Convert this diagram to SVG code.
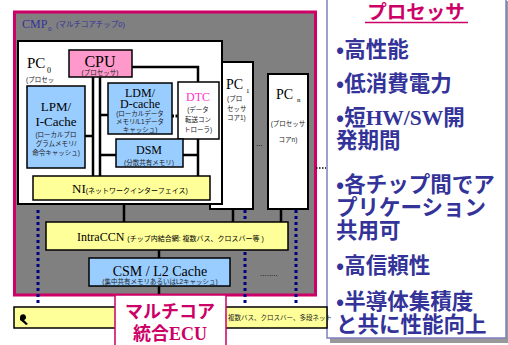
<svg xmlns="http://www.w3.org/2000/svg" width="508" height="345" viewBox="0 0 508 345">
<style>
.bx{stroke:#000;stroke-width:1.5}
.pc{fill:#fff;stroke:#000;stroke-width:2}
.bl{fill:#99ccff}
.ye{fill:#ffff99}
.se{font-family:"Liberation Serif",serif;fill:#000}
.jp{font-family:"Liberation Sans","Noto Sans CJK JP",sans-serif;font-size:6.5px;fill:#222}
.bus{stroke:#000;stroke-width:2.5;fill:none}
.dot{stroke:#000080;stroke-width:3;stroke-dasharray:3,3;fill:none}
.rt{font-family:"Noto Sans CJK JP",sans-serif;font-weight:bold;font-size:21.5px;fill:#333399}
.rs{font-family:"Liberation Serif",serif;font-weight:bold}
</style>
<rect width="508" height="345" fill="#fff"/>
<g id="right-panel">
<rect x="330" y="1" width="178" height="342" fill="#999"/>
<rect x="327" y="-2" width="179" height="340" fill="#fff" stroke="#8080c0" stroke-width="1.5"/>
<text x="416" y="18.5" text-anchor="middle" font-family="Noto Sans CJK JP,sans-serif" font-weight="bold" font-size="19.5" fill="#cc0066">プロセッサ</text>
<line x1="365" y1="22.5" x2="468" y2="22.5" stroke="#cc0066" stroke-width="1.5"/>
<text class="rt" x="336" y="57">•高性能</text>
<text class="rt" x="336" y="91">•低消費電力</text>
<text class="rt" x="336" y="125">•短<tspan class="rs">HW/SW</tspan>開</text>
<text class="rt" x="336" y="148">発期間</text>
<text class="rt" x="336" y="192">•各チップ間でア</text>
<text class="rt" x="336" y="215">プリケーション</text>
<text class="rt" x="336" y="238">共用可</text>
<text class="rt" x="336" y="273">•高信頼性</text>
<text class="rt" x="336" y="309">•半導体集積度</text>
<text class="rt" x="336" y="332">と共に性能向上</text>
</g>
<g id="bottom-bus">
<rect x="14" y="307" width="313" height="21" class="ye" stroke="#000" stroke-width="1.5"/>
<text class="jp" x="228" y="320" font-size="6.5">複数バス、クロスバー、多段ネット</text>
<path d="M20,317 a3,3 0 1 1 4,3 q2,2 4,4 l-2,1 q-3,-3 -6,-5 z" fill="#000"/>
</g>
<g id="cmp">
<rect x="14.5" y="12" width="301" height="283" fill="#808080" stroke="#cc0066" stroke-width="3"/>
<text x="22" y="28" font-family="Liberation Serif,serif" font-size="12" fill="#333399">CMP</text>
<text x="48" y="31" font-family="Liberation Serif,serif" font-size="7" fill="#333399">0</text>
<text x="56" y="27" font-family="Liberation Sans,Noto Sans CJK JP,sans-serif" font-size="7.5" fill="#333399">(マルチコアチップ0)</text>
<text x="260" y="276" font-family="Liberation Sans,sans-serif" font-size="8" fill="#000">........</text>
<text x="256" y="146" font-family="Liberation Sans,sans-serif" font-size="8" fill="#000">...</text>
</g>
<g id="connectors">
<path class="bus" d="M124,200 V222 M233,209 V222 M281,209 V222 M159,250 V258 M159,286 V294"/>
<path class="dot" d="M38,210 V304 M245,210 V304 M296,210 V304"/>
<path d="M316,168 H326" stroke="#000" stroke-width="1.5" stroke-dasharray="1.5,1.5"/>
</g>
<g id="pcn">
<rect class="pc" x="268" y="74" width="40" height="135"/>
<text class="se" x="276" y="99" font-size="14">PC</text>
<text class="se" x="297" y="102" font-size="7">n</text>
<text class="jp" x="288" y="126" text-anchor="middle">(プロセッサ</text>
<text class="jp" x="288" y="142" text-anchor="middle">コアn)</text>
</g>
<g id="pc1">
<rect class="pc" x="210" y="62" width="43" height="147"/>
<text class="se" x="226" y="89" font-size="14">PC</text>
<text class="se" x="246" y="93" font-size="7">1</text>
<text class="jp" x="227" y="101">(プロ</text>
<text class="jp" x="227" y="111">セッサ</text>
<text class="jp" x="227" y="120">コア1)</text>
</g>
<g id="pc0">
<rect class="pc" x="18" y="41" width="204" height="163"/>
<text class="se" x="27" y="68" font-size="15">PC</text>
<text class="se" x="47" y="73" font-size="8">0</text>
<text class="jp" x="26" y="82">(プロセッ</text>
<text class="jp" x="26" y="91">サコア0)</text>
</g>
<g id="pc0-buses">
<path class="bus" d="M93,77 V176 M100,77 V176 M85,136 H93 M100,115 H108 M100,155 H116 M132,67 H198 V82 M198,139 V176 M183,155 H198"/>
<path d="M172,116 H178" stroke="#000" stroke-width="3" stroke-dasharray="2,1.5"/>
</g>
<g id="cpu">
<rect x="69" y="50" width="63" height="27" fill="#ff99cc" class="bx"/>
<text class="se" x="100" y="67" font-size="16" text-anchor="middle">CPU</text>
<text class="jp" x="100" y="75" text-anchor="middle">(プロセッサ)</text>
</g>
<g id="lpm">
<rect x="27" y="86" width="58" height="82" class="bl bx"/>
<text class="se" x="56" y="111" font-size="13" text-anchor="middle">LPM/</text>
<text class="se" x="56" y="126" font-size="13" text-anchor="middle">I-Cache</text>
<text class="jp" x="56" y="137" text-anchor="middle">(ローカルプロ</text>
<text class="jp" x="56" y="146" text-anchor="middle">グラムメモリ/</text>
<text class="jp" x="56" y="155" text-anchor="middle">命令キャッシュ)</text>
</g>
<g id="ldm">
<rect x="108" y="83" width="64" height="51" class="bl bx"/>
<text class="se" x="140" y="97" font-size="12" text-anchor="middle">LDM/</text>
<text class="se" x="140" y="108" font-size="12" text-anchor="middle">D-cache</text>
<text class="jp" x="140" y="116" text-anchor="middle">(ローカルデータ</text>
<text class="jp" x="140" y="124" text-anchor="middle">メモリ/L1データ</text>
<text class="jp" x="140" y="132" text-anchor="middle">キャッシュ)</text>
</g>
<g id="dtc">
<rect x="178" y="82" width="41" height="57" fill="#fff" class="bx"/>
<text x="198" y="101" font-family="Liberation Serif,serif" font-size="12" fill="#ff33cc" text-anchor="middle">DTC</text>
<text class="jp" x="198" y="112" text-anchor="middle">(データ</text>
<text class="jp" x="198" y="122" text-anchor="middle">転送コン</text>
<text class="jp" x="198" y="132" text-anchor="middle">トローラ)</text>
</g>
<g id="dsm">
<rect x="116" y="139" width="67" height="28" class="bl bx"/>
<text class="se" x="149" y="154" font-size="12" text-anchor="middle">DSM</text>
<text class="jp" x="149" y="165" text-anchor="middle">(分散共有メモリ)</text>
</g>
<g id="ni">
<rect x="33" y="176" width="177" height="24" class="ye bx"/>
<text x="72" y="193" class="se" font-size="13">NI<tspan font-family="Liberation Sans,Noto Sans CJK JP,sans-serif" font-size="7">(ネットワークインターフェイス)</tspan></text>
</g>
<g id="intraccn">
<rect x="46" y="222" width="242" height="28" class="ye bx"/>
<text x="77" y="241" class="se" font-size="12">IntraCCN <tspan font-family="Liberation Sans,Noto Sans CJK JP,sans-serif" font-size="7">(チップ内結合網:  複数バス、クロスバー等 )</tspan></text>
</g>
<g id="csm">
<rect x="89" y="258" width="141" height="28" class="bl bx"/>
<text class="se" x="160" y="276" font-size="14" text-anchor="middle">CSM / L2 Cache</text>
<text class="jp" x="160" y="284" text-anchor="middle">(集中共有メモリあるいはL2キャッシュ)</text>
</g>
<g id="ecu">
<rect x="115" y="295" width="111" height="55" fill="#fff" stroke="#cc0066" stroke-width="1.5"/>
<text x="170" y="318" text-anchor="middle" font-family="Noto Sans CJK JP,sans-serif" font-weight="bold" font-size="18" fill="#cc0066">マルチコア</text>
<text x="170" y="340" text-anchor="middle" font-family="Noto Sans CJK JP,sans-serif" font-weight="bold" font-size="18" fill="#cc0066">統合<tspan font-family="Liberation Serif,serif">ECU</tspan></text>
</g>
</svg>
